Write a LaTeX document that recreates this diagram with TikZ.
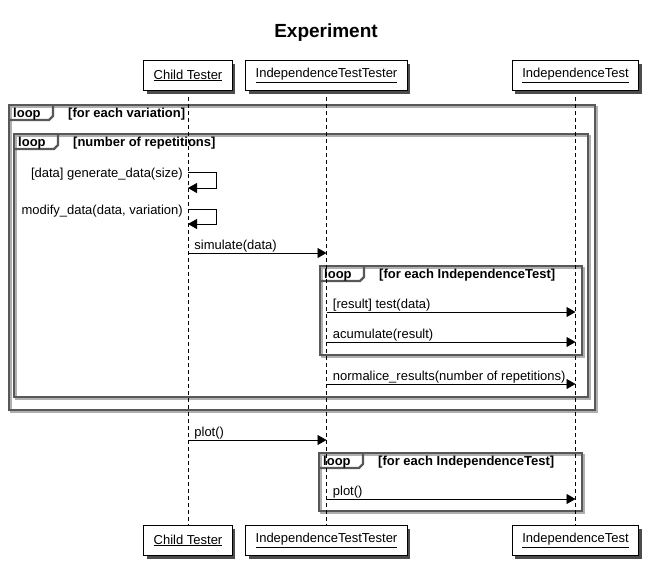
\documentclass[tikz,border=0pt]{standalone}
\usepackage{fontspec}
\setmainfont{Liberation Sans}
\usetikzlibrary{arrows.meta}

\definecolor{framegray}{RGB}{88,88,88}
\definecolor{frameshade}{RGB}{175,175,175}

% loop frame: name, x0, y0, x1, y1, guard
\newcommand{\loopframe}[6]{%
  \draw[frameshadow] (#2+2,#3+2) rectangle (#4+2,#5+2);
  \draw[frame] (#2,#3) rectangle (#4,#5);
  \draw[frame] (#2,#3+15) -- (#2+40,#3+15) -- (#2+44,#3+11) -- (#2+44,#3);
  \node[looptag] (#1) at (#2+4,#3+12) {loop};
  \node[looptag] (#1guard) at (#2+59,#3+12) {[#6]};
}

\begin{document}
\begin{tikzpicture}[x=1pt,y=-1pt,
  font=\fontsize{13}{15}\selectfont,
  actor/.style={draw=black,fill=white,line width=1pt,inner xsep=10pt,minimum height=30pt,
    preaction={fill=black!70,transform canvas={xshift=3pt,yshift=-3pt}}},
  lifeline/.style={dash pattern=on 4pt off 3pt,line width=0.8pt},
  msg/.style={line width=0.8pt,-{Triangle[length=9pt,width=10pt]}},
  msglabel/.style={anchor=base west,inner sep=0pt,xshift=6pt,yshift=4pt},
  selflabel/.style={anchor=base east,inner sep=0pt},
  frame/.style={draw=framegray,line width=2.2pt},
  frameshadow/.style={draw=frameshade,line width=1.6pt},
  looptag/.style={anchor=base west,inner sep=0pt,font=\fontsize{13}{15}\selectfont\bfseries}]

\useasboundingbox (0,0) rectangle (655,571);

\node[font=\fontsize{19}{22}\selectfont\bfseries] (title) at (326,33) {Experiment};

% frames
\loopframe{variation}{9}{105}{595}{410}{for each variation}
\loopframe{repetition}{14}{134}{588}{397}{number of repetitions}
\loopframe{testloop}{320}{266}{582}{355}{for each IndependenceTest}
\loopframe{plotloop}{319}{453}{582}{511}{for each IndependenceTest}

% lifelines first, boxes on top
\coordinate (ctLine) at (188,90);
\coordinate (ittLine) at (326.5,90);
\coordinate (itLine) at (575.5,90);
\draw[lifeline] (ctLine) -- (ctLine |- 0,526);
\draw[lifeline] (ittLine) -- (ittLine |- 0,526);
\draw[lifeline] (itLine) -- (itLine |- 0,526);

% participants
\node[actor] (ctTop) at (188,75.5) {\underline{Child Tester}};
\node[actor] (ittTop) at (326.5,75.5) {\underline{IndependenceTestTester}};
\node[actor] (itTop) at (575.5,75.5) {\underline{IndependenceTest}};
\node[actor] (ctBot) at (188,540.5) {\underline{Child Tester}};
\node[actor] (ittBot) at (326.5,540.5) {\underline{IndependenceTestTester}};
\node[actor] (itBot) at (575.5,540.5) {\underline{IndependenceTest}};

% self messages
\coordinate (gen) at (216,188);
\draw[msg] (ctTop |- 0,172) -| (gen) -- (ctTop |- gen);
\node[selflabel] at ([xshift=-5pt]ctTop |- 0,177) {[data] generate\_data(size)};
\coordinate (mod) at (216,224);
\draw[msg] (ctTop |- 0,209) -| (mod) -- (ctTop |- mod);
\node[selflabel] at ([xshift=-5pt]ctTop |- 0,214) {modify\_data(data, variation)};

% messages
\draw[msg] (ctTop |- 0,253) -- node[msglabel,pos=0] {simulate(data)} (ittTop |- 0,253);
\draw[msg] (ittTop |- 0,312) -- node[msglabel,pos=0] {[result] test(data)} (itTop |- 0,312);
\draw[msg] (ittTop |- 0,342) -- node[msglabel,pos=0] {acumulate(result)} (itTop |- 0,342);
\draw[msg] (ittTop |- 0,384) -- node[msglabel,pos=0] {normalice\_results(number of repetitions)} (itTop |- 0,384);
\draw[msg] (ctTop |- 0,440) -- node[msglabel,pos=0] {plot()} (ittTop |- 0,440);
\draw[msg] (ittTop |- 0,499) -- node[msglabel,pos=0] {plot()} (itTop |- 0,499);

\end{tikzpicture}
\end{document}
